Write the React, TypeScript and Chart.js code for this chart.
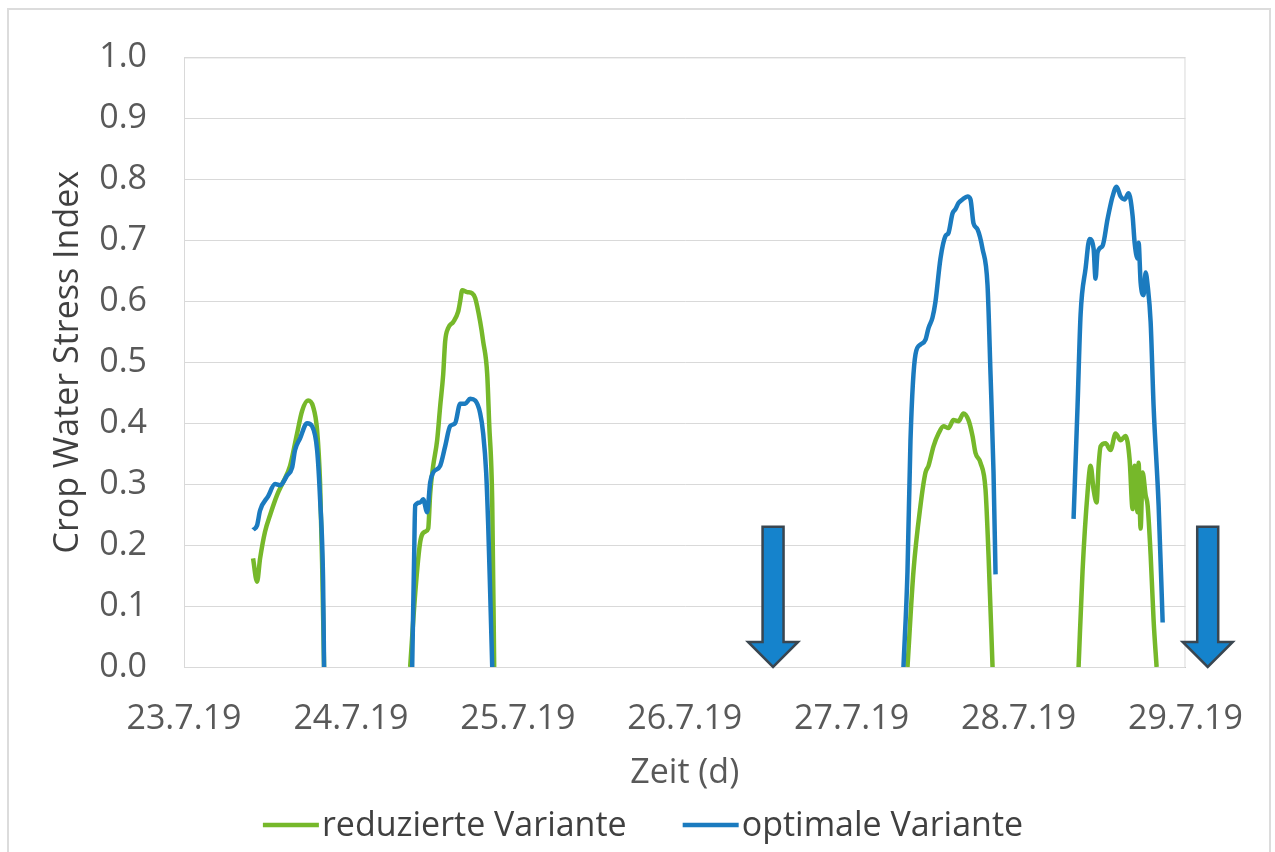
import React, { useEffect, useRef } from "react";
import { Chart, registerables } from "chart.js";

Chart.register(...registerables);

// x = hours since 23.7.19 00:00
const xTickLabels = ["23.7.19", "24.7.19", "25.7.19", "26.7.19", "27.7.19", "28.7.19", "29.7.19"];

const greenHours = [
  9.93, 10.5, 10.94, 11.65, 12.37, 13.38, 14.24, 15.25, 16.26, 16.98, 17.84, 18.56, 19.14, 19.57, 19.86, 20.14,
  26.0,
  32.52, 33.24, 33.96, 34.68, 35.11, 35.4, 35.83, 36.4, 36.83, 37.27, 37.55, 37.99, 38.71, 39.42, 39.71, 40.0, 40.72, 41.44, 41.87, 42.59, 43.02, 43.6, 43.88, 44.32, 44.6,
  70.0,
  104.03, 104.89, 105.9, 106.62, 107.05, 107.77, 108.49, 109.21, 109.92, 110.64, 111.36, 112.08, 112.8, 113.38, 113.81, 114.53, 115.25, 115.68, 116.26,
  122.0,
  128.63, 129.2, 129.92, 130.36, 130.79, 131.22, 131.51, 131.8, 132.51, 133.23, 133.95, 134.67, 135.39, 135.97, 136.4, 136.69, 137.12, 137.26, 137.55, 137.84, 138.27, 138.56, 138.99, 139.42, 139.85,
];
const greenValues = [
  0.178, 0.14, 0.178, 0.222, 0.249, 0.282, 0.303, 0.33, 0.383, 0.42, 0.437, 0.427, 0.388, 0.3, 0.17, 0.0,
  null,
  0.0, 0.12, 0.205, 0.222, 0.227, 0.285, 0.33, 0.372, 0.427, 0.48, 0.534, 0.556, 0.566, 0.583, 0.6, 0.618, 0.615, 0.613, 0.605, 0.566, 0.534, 0.48, 0.4, 0.27, 0.0,
  null,
  0.0, 0.157, 0.265, 0.319, 0.33, 0.362, 0.383, 0.395, 0.392, 0.405, 0.403, 0.416, 0.405, 0.379, 0.351, 0.335, 0.291, 0.184, 0.0,
  null,
  0.0, 0.157, 0.286, 0.33, 0.291, 0.27, 0.33, 0.362, 0.367, 0.356, 0.383, 0.372, 0.379, 0.34, 0.259, 0.33, 0.254, 0.335, 0.227, 0.319, 0.282, 0.265, 0.184, 0.076, 0.0,
];

const blueHours = [
  9.93, 10.5, 10.94, 12.09, 13.09, 13.81, 14.82, 15.54, 15.97, 16.69, 17.7, 18.42, 19.14, 19.57, 20.0, 20.14,
  26.0,
  32.81, 33.09, 33.24, 33.96, 34.39, 34.96, 35.4, 35.83, 36.83, 37.55, 38.27, 38.99, 39.71, 40.43, 41.15, 41.87, 42.59, 43.02, 43.45, 43.74, 44.03, 44.32,
  70.0,
  103.45, 104.03, 104.46, 105.18, 105.9, 106.62, 107.05, 107.62, 108.05, 108.77, 109.49, 109.92, 110.5, 110.93, 111.36, 111.94, 112.66, 113.09, 113.52, 114.1, 114.82, 115.54, 115.97, 116.4, 116.69,
  122.0,
  127.91, 128.48, 128.92, 129.64, 130.21, 130.79, 131.07, 131.36, 132.08, 132.8, 133.52, 134.1, 134.67, 135.25, 135.82, 136.4, 136.69, 137.12, 137.26, 137.55, 137.98, 138.27, 138.56, 138.99, 139.42, 140.14, 140.72,
];
const blueValues = [
  0.225, 0.232, 0.257, 0.28, 0.3, 0.298, 0.314, 0.327, 0.356, 0.375, 0.4, 0.395, 0.356, 0.275, 0.14, 0.0,
  null,
  0.0, 0.18, 0.265, 0.27, 0.275, 0.254, 0.303, 0.319, 0.33, 0.362, 0.395, 0.4, 0.432, 0.432, 0.44, 0.437, 0.416, 0.383, 0.319, 0.233, 0.12, 0.0,
  null,
  0.0, 0.157, 0.372, 0.513, 0.529, 0.537, 0.556, 0.573, 0.599, 0.67, 0.707, 0.712, 0.744, 0.751, 0.761, 0.767, 0.772, 0.767, 0.728, 0.718, 0.686, 0.626, 0.48, 0.319, 0.152,
  null,
  0.243, 0.427, 0.578, 0.654, 0.702, 0.686, 0.637, 0.68, 0.691, 0.735, 0.772, 0.788, 0.772, 0.767, 0.777, 0.74, 0.696, 0.67, 0.696, 0.631, 0.61, 0.647, 0.626, 0.566, 0.427, 0.265, 0.073,
];

// irrigation arrows (hours since 23.7.19, top value)
const arrowHours = [84.7, 147.2];
const arrowTopValue = 0.23;

const seriesLabels = ["reduzierte Variante", "optimale Variante"];
const seriesColors = ["#76b82a", "#1b7bbf"];

const FONT = "'Open Sans', 'DejaVu Sans', sans-serif";
const FONT_SIZE = 34;

function toPoints(xs: number[], ys: (number | null)[]) {
  return xs.map((x, i) => ({ x, y: ys[i] }));
}

const decorPlugin = {
  id: "decor",
  beforeDraw(chart: any) {
    const { ctx, width, height } = chart;
    ctx.save();
    ctx.fillStyle = "#ffffff";
    ctx.fillRect(0, 0, width, height);
    ctx.strokeStyle = "#dcdcdc";
    ctx.lineWidth = 2;
    ctx.beginPath();
    ctx.moveTo(8, height + 2);
    ctx.lineTo(8, 9);
    ctx.lineTo(1270, 9);
    ctx.lineTo(1270, height + 2);
    ctx.stroke();
    ctx.restore();
  },
  afterDraw(chart: any) {
    const { ctx, chartArea, scales } = chart;
    ctx.save();
    // plot area border
    ctx.strokeStyle = "#d9d9d9";
    ctx.lineWidth = 1;
    ctx.strokeRect(chartArea.left + 0.5, chartArea.top + 0.5, chartArea.right - chartArea.left - 1, chartArea.bottom - chartArea.top);
    // arrows
    arrowHours.forEach((h) => {
      const cx = scales.x.getPixelForValue(h);
      const top = scales.y.getPixelForValue(arrowTopValue);
      const tip = scales.y.getPixelForValue(0);
      const sw = 10.5;
      const hw = 25;
      const hh = 25;
      ctx.beginPath();
      ctx.moveTo(cx - sw, top);
      ctx.lineTo(cx + sw, top);
      ctx.lineTo(cx + sw, tip - hh);
      ctx.lineTo(cx + hw, tip - hh);
      ctx.lineTo(cx, tip);
      ctx.lineTo(cx - hw, tip - hh);
      ctx.lineTo(cx - sw, tip - hh);
      ctx.closePath();
      ctx.fillStyle = "#1583cc";
      ctx.fill();
      ctx.strokeStyle = "#3a4650";
      ctx.lineWidth = 2.5;
      ctx.lineJoin = "miter";
      ctx.stroke();
    });
    // legend
    ctx.font = `${FONT_SIZE}px ${FONT}`;
    ctx.textBaseline = "middle";
    ctx.textAlign = "left";
    const lineLen = 56;
    const gapText = 3;
    const gapItems = 56;
    const widths = seriesLabels.map((l) => ctx.measureText(l).width);
    const total = widths.reduce((a, w) => a + lineLen + gapText + w, 0) + gapItems * (seriesLabels.length - 1);
    let x = 643 - total / 2;
    const y = 825;
    seriesLabels.forEach((l, i) => {
      ctx.strokeStyle = seriesColors[i];
      ctx.lineWidth = 4.5;
      ctx.beginPath();
      ctx.moveTo(x, y);
      ctx.lineTo(x + lineLen, y);
      ctx.stroke();
      ctx.fillStyle = "#404040";
      ctx.fillText(l, x + lineLen + gapText, y + 1);
      x += lineLen + gapText + widths[i] + gapItems;
    });
    ctx.restore();
  },
};

export default function App() {
  const ref = useRef<HTMLCanvasElement | null>(null);
  useEffect(() => {
    if (!ref.current) return;
    Chart.defaults.font.family = FONT;
    const chart = new Chart(ref.current, {
      type: "line",
      data: {
        datasets: [
          {
            label: seriesLabels[0],
            data: toPoints(greenHours, greenValues),
            borderColor: seriesColors[0],
            backgroundColor: seriesColors[0],
            borderWidth: 4.5,
            pointRadius: 0,
            spanGaps: false,
            cubicInterpolationMode: "monotone",
            order: 1,
          },
          {
            label: seriesLabels[1],
            data: toPoints(blueHours, blueValues),
            borderColor: seriesColors[1],
            backgroundColor: seriesColors[1],
            borderWidth: 4.5,
            pointRadius: 0,
            spanGaps: false,
            cubicInterpolationMode: "monotone",
            order: 0,
          },
        ],
      },
      options: {
        responsive: false,
        animation: false,
        devicePixelRatio: 1,
        layout: { padding: { left: 0, top: 49, right: 89, bottom: 0 } },
        plugins: {
          legend: { display: false },
          tooltip: { enabled: false },
        },
        scales: {
          x: {
            type: "linear",
            min: 0,
            max: 144,
            afterBuildTicks: (scale: any) => {
              scale.ticks = xTickLabels.map((_, i) => ({ value: i * 24 }));
            },
            afterFit: (scale: any) => {
              scale.height = 185;
            },
            ticks: {
              autoSkip: false,
              maxRotation: 0,
              padding: 32,
              color: "#595959",
              font: { size: FONT_SIZE },
              callback: (v: any) => xTickLabels[Math.round(Number(v) / 24)] ?? "",
            },
            grid: { display: false, drawTicks: false },
            border: { display: true, color: "#bfbfbf", width: 1 },
            title: {
              display: true,
              text: "Zeit (d)",
              color: "#595959",
              font: { size: FONT_SIZE },
              padding: { top: 0, bottom: 58 },
            },
          },
          y: {
            min: 0,
            max: 1,
            afterFit: (scale: any) => {
              scale.width = 184;
            },
            ticks: {
              stepSize: 0.1,
              padding: 37,
              color: "#595959",
              font: { size: FONT_SIZE },
              callback: (v: any) => Number(v).toFixed(1),
            },
            grid: { color: "#d9d9d9", lineWidth: 1, drawTicks: false },
            border: { display: true, color: "#d9d9d9" },
            title: {
              display: true,
              text: "Crop Water Stress Index",
              color: "#404040",
              font: { size: FONT_SIZE },
              padding: { top: 48, bottom: 0 },
            },
          },
        },
      },
      plugins: [decorPlugin],
    });
    return () => chart.destroy();
  }, []);
  return (
    <div style={{ position: "absolute", left: 0, top: 0, width: 1275, height: 852 }}>
      <canvas ref={ref} width={1275} height={852} style={{ display: "block" }} />
    </div>
  );
}
